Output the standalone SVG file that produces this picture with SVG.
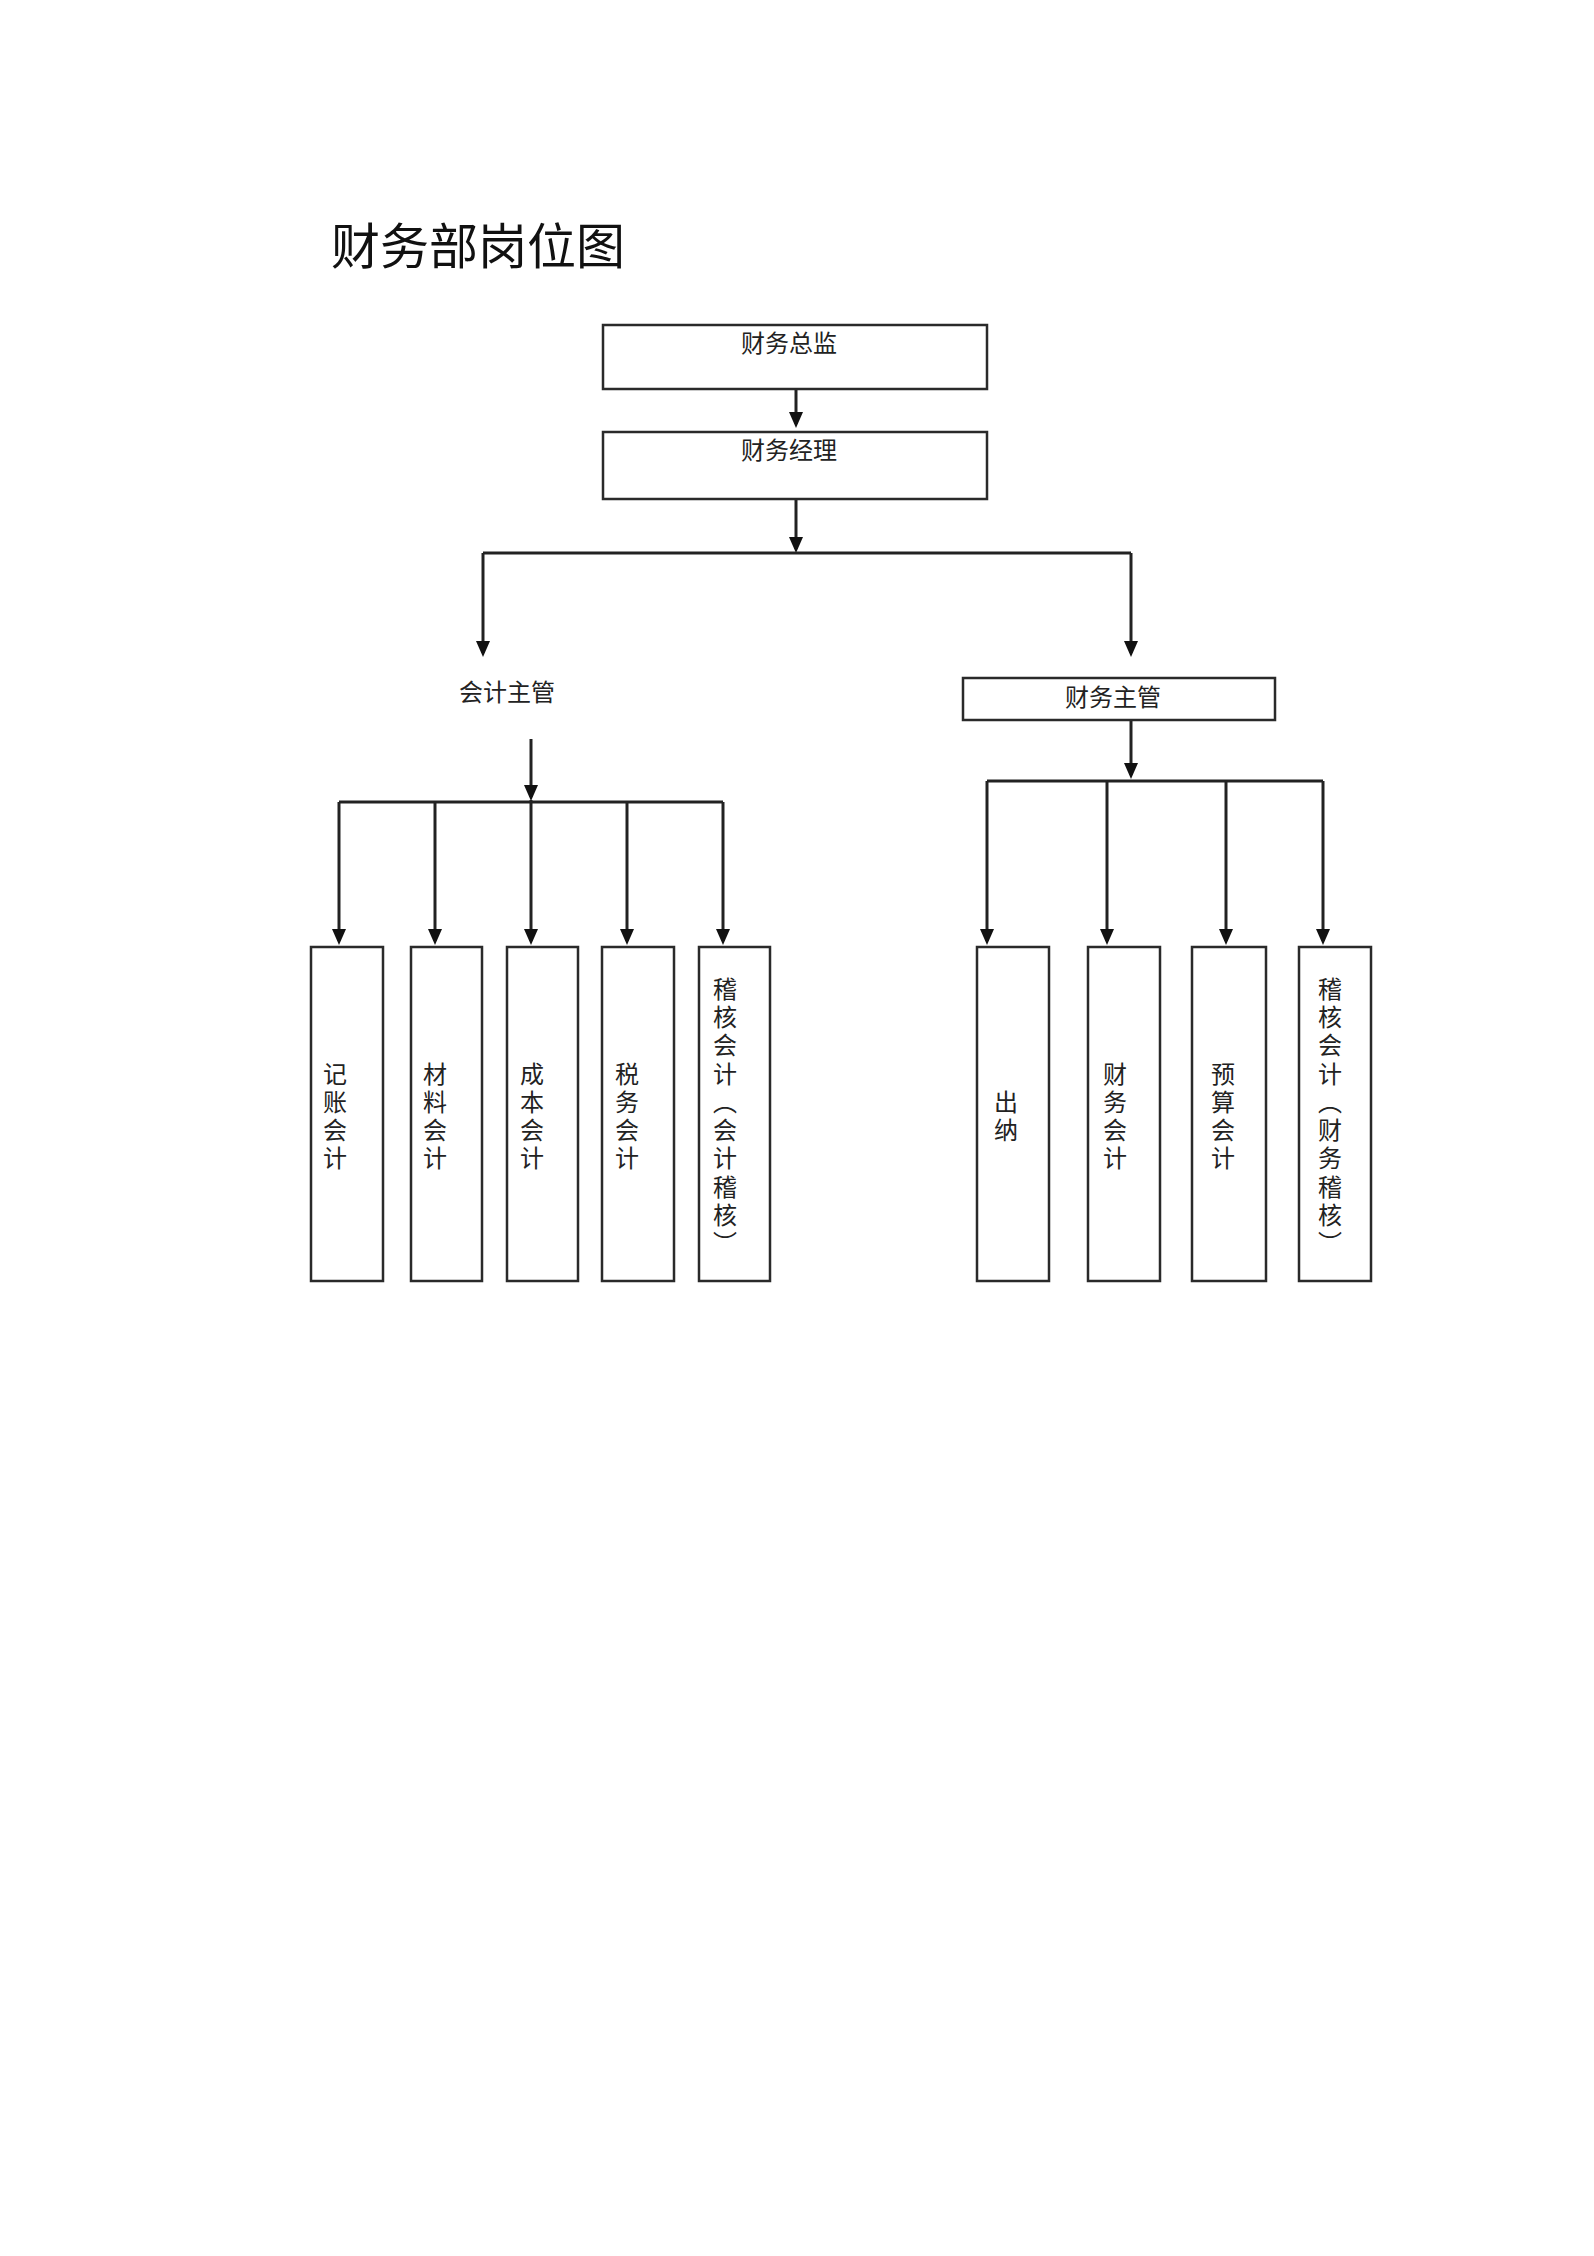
<svg xmlns="http://www.w3.org/2000/svg" width="1594" height="2256" viewBox="0 0 1594 2256">
<style>
.bg{fill:#ffffff}
.box{fill:#ffffff;stroke:#2a2a2a;stroke-width:2.5}
.ln{fill:none;stroke:#222222;stroke-width:3}
.t{font-family:"Noto Sans CJK SC","Noto Sans",sans-serif;font-size:24px;fill:#222222}
.c{text-anchor:middle}
.v{font-family:"Noto Sans CJK SC","Noto Sans",sans-serif;font-size:24px;fill:#222222;writing-mode:vertical-rl;text-orientation:upright;letter-spacing:4.3px;text-anchor:middle;font-feature-settings:"vert" 0,"vrt2" 0}
.title{font-family:"Noto Sans CJK SC","Noto Sans",sans-serif;font-size:49px;fill:#111111}
</style>
<defs>
<marker id="arr" markerUnits="userSpaceOnUse" markerWidth="16" markerHeight="14" viewBox="0 0 16 14" refX="12" refY="7" orient="auto">
<path d="M0,0 L16,7 L0,14 z" fill="#111111"/>
</marker>
</defs>
<rect class="bg" x="0" y="0" width="1594" height="2256"/>
<text class="title" x="331" y="264">财务部岗位图</text>

<g id="connectors">
<path class="ln" d="M796,389 V424" marker-end="url(#arr)"/>
<path class="ln" d="M796,499 V549" marker-end="url(#arr)"/>
<path class="ln" d="M483,553 H1131"/>
<path class="ln" d="M483,553 V653" marker-end="url(#arr)"/>
<path class="ln" d="M1131,553 V653" marker-end="url(#arr)"/>
<path class="ln" d="M531,739 V797" marker-end="url(#arr)"/>
<path class="ln" d="M339,802 H723"/>
<path class="ln" d="M339,802 V941" marker-end="url(#arr)"/>
<path class="ln" d="M435,802 V941" marker-end="url(#arr)"/>
<path class="ln" d="M531,800 V941" marker-end="url(#arr)"/>
<path class="ln" d="M627,802 V941" marker-end="url(#arr)"/>
<path class="ln" d="M723,802 V941" marker-end="url(#arr)"/>
<path class="ln" d="M1131,720 V775" marker-end="url(#arr)"/>
<path class="ln" d="M987,781 H1323"/>
<path class="ln" d="M987,781 V941" marker-end="url(#arr)"/>
<path class="ln" d="M1107,781 V941" marker-end="url(#arr)"/>
<path class="ln" d="M1226,781 V941" marker-end="url(#arr)"/>
<path class="ln" d="M1323,781 V941" marker-end="url(#arr)"/>
</g>

<g id="n-cfo">
<rect class="box" x="603" y="325" width="384" height="64"/>
<text class="t c" x="789" y="352">财务总监</text>
</g>
<g id="n-manager">
<rect class="box" x="603" y="432" width="384" height="67"/>
<text class="t c" x="789" y="459">财务经理</text>
</g>
<g id="n-acct-super">
<text class="t c" x="507" y="701">会计主管</text>
</g>
<g id="n-fin-super">
<rect class="box" x="963" y="678" width="312" height="42"/>
<text class="t c" x="1113" y="706">财务主管</text>
</g>

<g id="n-jizhang">
<rect class="box" x="311" y="947" width="72" height="334"/>
<text class="v" x="335" y="1118">记账会计</text>
</g>
<g id="n-cailiao">
<rect class="box" x="411" y="947" width="71" height="334"/>
<text class="v" x="435" y="1118">材料会计</text>
</g>
<g id="n-chengben">
<rect class="box" x="507" y="947" width="71" height="334"/>
<text class="v" x="532" y="1118">成本会计</text>
</g>
<g id="n-shuiwu">
<rect class="box" x="602" y="947" width="72" height="334"/>
<text class="v" x="627" y="1118">税务会计</text>
</g>
<g id="n-jihe-left">
<rect class="box" x="699" y="947" width="71" height="334"/>
<text class="v" x="725" y="1118">稽核会计（会计稽核）</text>
</g>

<g id="n-chuna">
<rect class="box" x="977" y="947" width="72" height="334"/>
<text class="v" x="1006" y="1118">出纳</text>
</g>
<g id="n-caiwu">
<rect class="box" x="1088" y="947" width="72" height="334"/>
<text class="v" x="1115" y="1118">财务会计</text>
</g>
<g id="n-yusuan">
<rect class="box" x="1192" y="947" width="74" height="334"/>
<text class="v" x="1223" y="1118">预算会计</text>
</g>
<g id="n-jihe-right">
<rect class="box" x="1299" y="947" width="72" height="334"/>
<text class="v" x="1330" y="1118">稽核会计（财务稽核）</text>
</g>
</svg>
